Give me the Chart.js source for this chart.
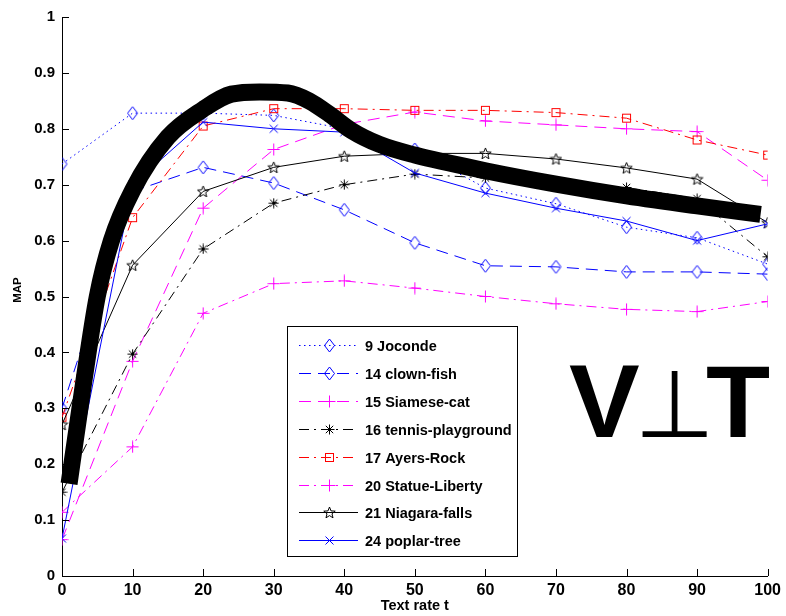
<!DOCTYPE html>
<html><head><meta charset="utf-8">
<script src="https://cdn.jsdelivr.net/npm/chart.js@4.4.0/dist/chart.umd.min.js"></script>
<style>html,body{margin:0;padding:0;background:#fff;}#wrap{width:786px;height:616px;}</style>
</head><body><div id="wrap"><canvas id="c" width="786" height="616"></canvas></div>
<script>
// ---- data ----
const textRates = [0,10,20,30,40,50,60,70,80,90,100];
const seriesNames = ['9 Joconde','14 clown-fish','15 Siamese-cat','16 tennis-playground','17 Ayers-Rock','20 Statue-Liberty','21 Niagara-falls','24 poplar-tree'];
const joconde          = [0.737,0.828,0.828,0.824,0.800,0.763,0.694,0.666,0.624,0.605,0.558];
const clownFish        = [0.300,0.688,0.731,0.703,0.655,0.596,0.555,0.553,0.544,0.544,0.540];
const siameseCat       = [0.065,0.384,0.658,0.763,0.808,0.830,0.814,0.807,0.800,0.795,0.708];
const tennisPlayground = [0.150,0.397,0.585,0.667,0.700,0.719,0.712,0.703,0.695,0.675,0.571];
const ayersRock        = [0.284,0.641,0.805,0.836,0.836,0.833,0.833,0.829,0.819,0.780,0.753];
const statueLiberty    = [0.114,0.231,0.470,0.523,0.528,0.515,0.500,0.487,0.477,0.473,0.491];
const niagaraFalls     = [0.271,0.556,0.688,0.731,0.751,0.756,0.756,0.746,0.730,0.710,0.632];
const poplarTree       = [0.067,0.700,0.812,0.800,0.794,0.721,0.685,0.658,0.635,0.600,0.630];
const trendRates  = [1.0,3,5,7,10,15,20,24,28,32,35,38,41,45,50,60,70,80,90,99];
const trendValues = [0.165,0.34,0.50,0.60,0.69,0.785,0.835,0.862,0.866,0.864,0.850,0.825,0.797,0.772,0.753,0.725,0.701,0.68,0.662,0.647];
const xTicks = [0,10,20,30,40,50,60,70,80,90,100];
const yTicks = [0,0.1,0.2,0.3,0.4,0.5,0.6,0.7,0.8,0.9,1];
const xTitle = 'Text rate t';
const yTitle = 'MAP';
const overlayGlyphs = ['V','⊥','T'];

// ---- styles ----
const FONT = '"Liberation Sans", Arial, sans-serif';
const BLUE='#0000ff', MAG='#ff00ff', RED='#ff0000', BLK='#000000';
function mk(w,h,fn){const c=document.createElement('canvas');c.width=w;c.height=h;const g=c.getContext('2d');g.lineWidth=1;fn(g);return c;}
const markers = {
  diamond: mk(13,15,g=>{g.strokeStyle=BLUE;g.beginPath();g.moveTo(6.5,1);g.lineTo(11.5,7.5);g.lineTo(6.5,14);g.lineTo(1.5,7.5);g.closePath();g.stroke();}),
  plus: mk(13,13,g=>{g.strokeStyle=MAG;g.beginPath();g.moveTo(6.5,0.5);g.lineTo(6.5,12.5);g.moveTo(0.5,6.5);g.lineTo(12.5,6.5);g.stroke();}),
  asterisk: mk(11,11,g=>{g.strokeStyle=BLK;g.beginPath();g.moveTo(5.5,0.5);g.lineTo(5.5,10.5);g.moveTo(0.5,5.5);g.lineTo(10.5,5.5);g.moveTo(1.8,1.8);g.lineTo(9.2,9.2);g.moveTo(9.2,1.8);g.lineTo(1.8,9.2);g.stroke();}),
  square: mk(11,11,g=>{g.strokeStyle=RED;g.strokeRect(1.5,1.5,8,8);}),
  star: mk(13,13,g=>{g.strokeStyle=BLK;g.beginPath();for(let k=0;k<10;k++){const r=k%2?2.6:6;const an=-Math.PI/2+k*Math.PI/5;const px=6.5+r*Math.cos(an),py=7+r*Math.sin(an);k?g.lineTo(px,py):g.moveTo(px,py);}g.closePath();g.stroke();}),
  cross: mk(11,11,g=>{g.strokeStyle=BLUE;g.beginPath();g.moveTo(1.5,1.5);g.lineTo(9.5,9.5);g.moveTo(9.5,1.5);g.lineTo(1.5,9.5);g.stroke();})
};
const DOT=[1.5,3.5], DASH=[12,7], DASHDOT=[10,5,2,5];
const seriesDefs = [
  {values:joconde, color:BLUE, dash:DOT, marker:'diamond'},
  {values:clownFish, color:BLUE, dash:DASH, marker:'diamond'},
  {values:siameseCat, color:MAG, dash:DASH, marker:'plus'},
  {values:tennisPlayground, color:BLK, dash:DASHDOT, marker:'asterisk'},
  {values:ayersRock, color:RED, dash:DASHDOT, marker:'square'},
  {values:statueLiberty, color:MAG, dash:DASHDOT, marker:'plus'},
  {values:niagaraFalls, color:BLK, dash:[], marker:'star'},
  {values:poplarTree, color:BLUE, dash:[], marker:'cross'}
];

const datasets = [{
  label:'trend',
  data: trendRates.map((x,i)=>({x, y:trendValues[i]})),
  borderColor:'#000', borderWidth:17, pointRadius:0, cubicInterpolationMode:'monotone',
  borderCapStyle:'butt', borderJoinStyle:'round', clip:false, order:-1, fill:false
}].concat(seriesDefs.map((s,i)=>({
  label: seriesNames[i],
  data: textRates.map((x,j)=>({x, y:s.values[j]})),
  borderColor:s.color, borderWidth:1, borderDash:s.dash.slice(), tension:0, fill:false,
  pointStyle: markers[s.marker], pointRadius:5, order: 20-i
})));

function fitGlyph(ctx, ch, font, box){
  ctx.save(); ctx.font=font; ctx.textAlign='left'; ctx.textBaseline='alphabetic';
  const m=ctx.measureText(ch);
  const w=m.actualBoundingBoxLeft+m.actualBoundingBoxRight, h=m.actualBoundingBoxAscent+m.actualBoundingBoxDescent;
  ctx.translate(box[0],box[1]); ctx.scale((box[2]-box[0])/w,(box[3]-box[1])/h);
  ctx.fillStyle='#000'; ctx.fillText(ch, m.actualBoundingBoxLeft, m.actualBoundingBoxAscent);
  ctx.restore();
}

const deco = {
  id:'deco',
  afterDraw(chart){
    const {ctx, chartArea:a, scales:{x,y}} = chart;
    ctx.save();
    // inward ticks
    ctx.strokeStyle='#000'; ctx.lineWidth=1; ctx.setLineDash([]);
    ctx.beginPath();
    yTicks.forEach(v=>{const py=Math.round(y.getPixelForValue(v))+0.5; ctx.moveTo(a.left,py); ctx.lineTo(a.left+7,py);});
    xTicks.forEach(v=>{const px=Math.round(x.getPixelForValue(v))+0.5; ctx.moveTo(px,a.bottom); ctx.lineTo(px,a.bottom-7);});
    ctx.stroke();
    // axis titles
    ctx.fillStyle='#000';
    ctx.font='bold 14.5px '+FONT; ctx.textAlign='center'; ctx.textBaseline='middle';
    ctx.fillText(xTitle,(a.left+a.right)/2,606);
    ctx.save(); ctx.translate(17.5,290); ctx.rotate(-Math.PI/2);
    ctx.font='bold 11.5px '+FONT; ctx.fillText(yTitle,0,0); ctx.restore();
    // legend
    const L={x:287.5,y:326.5,w:230,h:230};
    ctx.fillStyle='#fff'; ctx.fillRect(L.x,L.y,L.w,L.h);
    ctx.strokeStyle='#000'; ctx.lineWidth=1; ctx.strokeRect(L.x,L.y,L.w,L.h);
    seriesDefs.forEach((s,i)=>{
      const yy=Math.round(345+i*27.9)+0.5;
      ctx.save();
      ctx.strokeStyle=s.color; ctx.lineWidth=1.2; ctx.setLineDash(s.dash.slice());
      ctx.beginPath(); ctx.moveTo(299,yy); ctx.lineTo(358,yy); ctx.stroke();
      ctx.restore();
      const m=markers[s.marker]; ctx.drawImage(m, Math.round(329-m.width/2), Math.round(yy-m.height/2));
      ctx.fillStyle='#000'; ctx.font='bold 14.5px '+FONT; ctx.textAlign='left'; ctx.textBaseline='middle';
      ctx.fillText(seriesNames[i],365,yy+1);
    });
    // V⊥T overlay
    fitGlyph(ctx, overlayGlyphs[0], 'bold 100px '+FONT, [569,366,640,437]);
    fitGlyph(ctx, overlayGlyphs[1], '100px "DejaVu Sans"', [642,370,707,437]);
    fitGlyph(ctx, overlayGlyphs[2], 'bold 100px '+FONT, [707,366,770,437]);
    ctx.restore();
  }
};

new Chart(document.getElementById('c').getContext('2d'), {
  type:'line',
  data:{datasets},
  options:{
    responsive:false, animation:false, events:[],
    layout:{padding:{top:17,right:17,left:0,bottom:0}},
    plugins:{legend:{display:false}, tooltip:{enabled:false}},
    scales:{
      x:{type:'linear', min:0, max:100,
        afterFit:s=>{s.height=40;},
        afterBuildTicks:s=>{s.ticks=xTicks.map(v=>({value:v}));},
        grid:{display:false, drawTicks:false},
        border:{display:true,color:'#000',width:1},
        ticks:{color:'#000', font:{family:FONT,size:16,weight:'bold'}, padding:5, maxRotation:0, autoSkip:false, callback:v=>String(v)}},
      y:{type:'linear', min:0, max:1,
        afterFit:s=>{s.width=62;},
        afterBuildTicks:s=>{s.ticks=yTicks.map(v=>({value:v}));},
        grid:{display:false, drawTicks:false},
        border:{display:true,color:'#000',width:1},
        ticks:{color:'#000', font:{family:FONT,size:15,weight:'bold'}, padding:7, autoSkip:false, callback:v=>String(v)}}
    }
  },
  plugins:[deco]
});
</script></body></html>
